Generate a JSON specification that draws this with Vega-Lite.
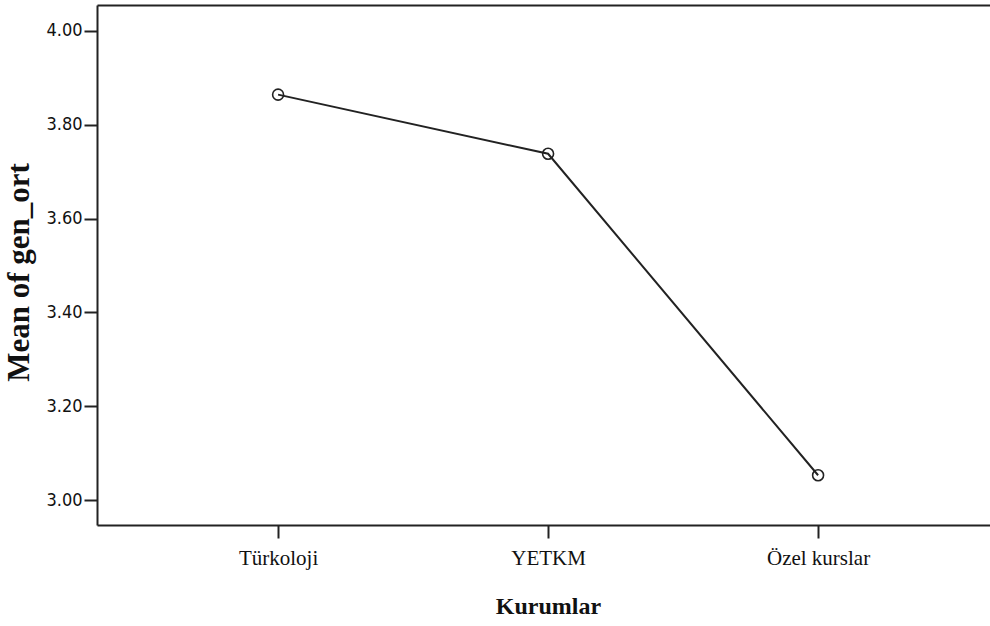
{
  "$schema": "https://vega.github.io/schema/vega-lite/v6.json",
  "autosize": "none",
  "width": 893,
  "height": 520,
  "padding": {"left": 97, "top": 5, "right": 0, "bottom": 101},
  "background": "white",
  "config": {
    "view": {"stroke": null},
    "axis": {"grid": false, "domainColor": "#222", "domainWidth": 2, "tickColor": "#222", "tickWidth": 2, "tickSize": 13, "labelColor": "#111", "titleColor": "#111"}
  },
  "data": {"values": [
    {"Kurumlar": "Türkoloji", "mean": 3.864},
    {"Kurumlar": "YETKM", "mean": 3.738},
    {"Kurumlar": "Özel kurslar", "mean": 3.053}
  ]},
  "encoding": {
    "y": {"field": "mean", "type": "quantitative",
      "scale": {"domain": [2.947, 4.055], "nice": false, "zero": false},
      "axis": {"title": "Mean of gen_ort", "values": [3.0, 3.2, 3.4, 3.6, 3.8, 4.0], "format": ".2f",
        "labelFont": "Liberation Sans Narrow, DejaVu Sans Condensed, sans-serif", "labelFontSize": 18, "labelPadding": 2,
        "titleFont": "Liberation Serif", "titleFontWeight": "bold", "titleFontSize": 31, "titlePadding": 10, "titleY": 267}}
  },
  "layer": [
    {"mark": {"type": "line", "color": "#222", "strokeWidth": 2},
     "encoding": {
       "x": {"field": "Kurumlar", "type": "ordinal", "sort": null,
         "scale": {"type": "point", "padding": 0.6537, "align": 0.513},
         "axis": {"title": "Kurumlar", "orient": "bottom", "labelAngle": 0, "labelFont": "Liberation Serif", "labelFontSize": 21, "labelPadding": 9,
           "titleFont": "Liberation Serif", "titleFontWeight": "bold", "titleFontSize": 24, "titlePadding": 26, "titleX": 451}}
     }},
    {"mark": {"type": "point", "shape": "circle", "filled": false, "color": "#222", "strokeWidth": 1.6, "size": 120, "opacity": 1},
     "encoding": {
       "x": {"field": "Kurumlar", "type": "ordinal", "sort": null,
         "axis": {"orient": "top", "title": null, "labels": false, "ticks": false, "domain": true}}
     }}
  ],
  "resolve": {"axis": {"x": "independent"}}
}
